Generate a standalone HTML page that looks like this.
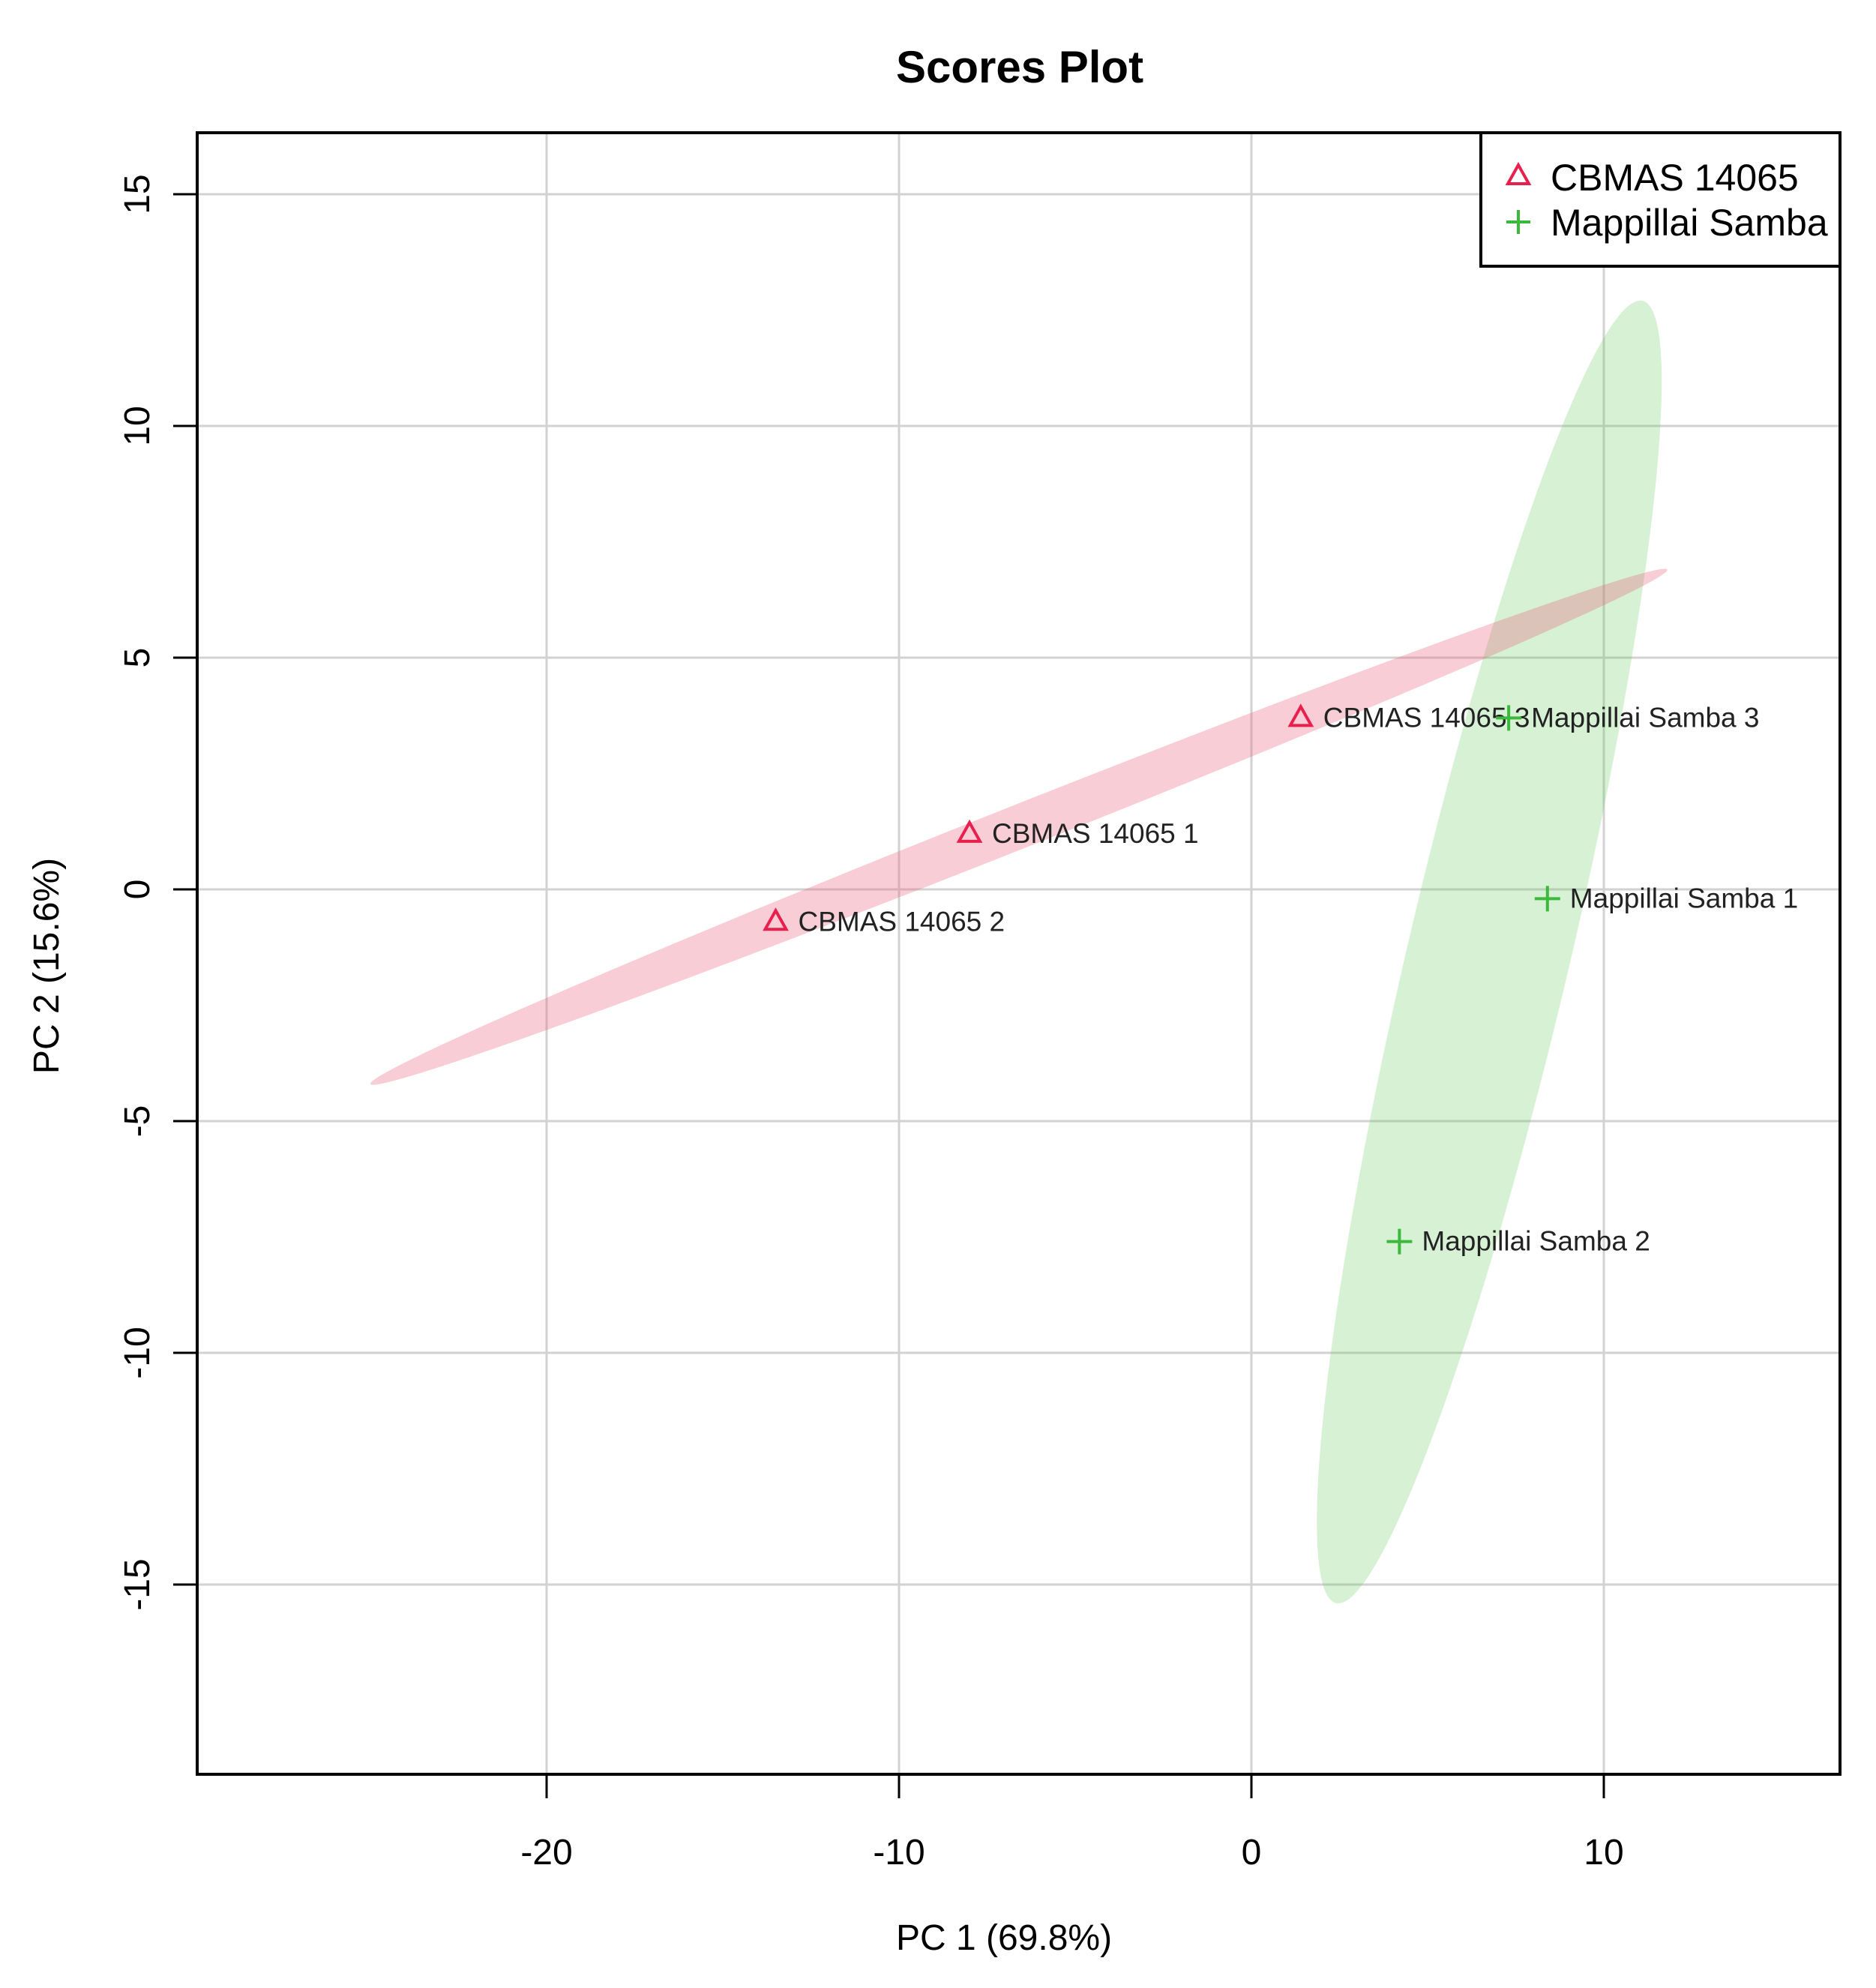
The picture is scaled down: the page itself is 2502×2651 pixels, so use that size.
<!DOCTYPE html>
<html><head><meta charset="utf-8">
<style>
html,body{margin:0;padding:0;background:#fff;}
svg{display:block;font-family:"Liberation Sans",Arial,sans-serif;}
</style></head>
<body>
<svg id="chart" width="2502" height="2651" viewBox="0 0 2502 2651" xmlns="http://www.w3.org/2000/svg">
<rect width="2502" height="2651" fill="#fff"/>
<text x="1360" y="110" font-size="60" font-weight="bold" text-anchor="middle" fill="#000">Scores Plot</text>
<g id="grid"></g>
<g id="ellipses"></g>
<g id="points"></g>
<rect x="263" y="177" width="2191" height="2189" fill="none" stroke="#000" stroke-width="4"/>
<g id="axes"></g>
<text x="1339" y="2600" font-size="48" text-anchor="middle" fill="#000">PC 1 (69.8%)</text>
<text transform="translate(78,1288) rotate(-90)" font-size="48" text-anchor="middle" fill="#000">PC 2 (15.6%)</text>
<g id="legend">
<rect x="1975" y="177" width="479" height="178" fill="#fff" stroke="#000" stroke-width="4"/>
<polygon points="2025,220 2039,245 2011,245" fill="none" stroke="#E8204E" stroke-width="4"/>
<text x="2068" y="254" font-size="50" fill="#000">CBMAS 14065</text>
<path d="M2009,296 H2041 M2025,280 V312" stroke="#3cb83c" stroke-width="4"/>
<text x="2068" y="314" font-size="50" fill="#000">Mappillai Samba</text>
</g>
</svg>
<script>
const xTicks = [-20, -10, 0, 10];
const yTicks = [-15, -10, -5, 0, 5, 10, 15];
const groupNames = ["CBMAS 14065", "Mappillai Samba"];
const cbmasLabels = ["CBMAS 14065 1", "CBMAS 14065 2", "CBMAS 14065 3"];
const cbmasX = [-8.0, -13.5, 1.4];
const cbmasY = [1.2, -0.7, 3.7];
const mappLabels = ["Mappillai Samba 1", "Mappillai Samba 2", "Mappillai Samba 3"];
const mappX = [8.4, 4.2, 7.3];
const mappY = [-0.2, -7.6, 3.7];
const cbmasEllipseEnds = [[-25.0, -4.2], [11.8, 6.9]];
const cbmasEllipseHalfWidth = [0.62];
const mappEllipseEnds = [[11.1, 12.7], [2.4, -15.4]];
const mappEllipseHalfWidth = [2.3];

const NS = "http://www.w3.org/2000/svg";
const L = 263, R = 2454, T = 177, B = 2366;
function xs(v){ return 1669 + v * 47.0; }
function ys(v){ return 1186 - v * 61.8; }
function mk(tag, attrs, parent){
  const e = document.createElementNS(NS, tag);
  for (const k in attrs) e.setAttribute(k, attrs[k]);
  parent.appendChild(e);
  return e;
}
const grid = document.getElementById('grid');
const axes = document.getElementById('axes');
xTicks.forEach(t => {
  const gl = mk('line', {x1: xs(t), x2: xs(t), y1: T, y2: B, stroke: '#d2d2d2', 'stroke-width': 3}, grid);
  
  
  const tk = mk('line', {x1: xs(t), x2: xs(t), y1: B, y2: B + 32, stroke: '#000', 'stroke-width': 3}, axes);
  
  
  const tl = mk('text', {x: xs(t), y: 2486, 'font-size': 48, 'text-anchor': 'middle', fill: '#000'}, axes);
  tl.textContent = String(t);
  
  
});
yTicks.forEach(t => {
  const gl = mk('line', {x1: L, x2: R, y1: ys(t), y2: ys(t), stroke: '#d2d2d2', 'stroke-width': 3}, grid);
  
  
  const tk = mk('line', {x1: L - 32, x2: L, y1: ys(t), y2: ys(t), stroke: '#000', 'stroke-width': 3}, axes);
  
  
  const tl = mk('text', {transform: 'translate(199,' + ys(t) + ') rotate(-90)', 'font-size': 48, 'text-anchor': 'middle', fill: '#000'}, axes);
  tl.textContent = String(t);
  
  
});
const eg = document.getElementById('ellipses');
function drawEllipse(ends, hw, fill, op, name){
  const x1 = xs(ends[0][0]), y1 = ys(ends[0][1]), x2 = xs(ends[1][0]), y2 = ys(ends[1][1]);
  const cx = (x1 + x2) / 2, cy = (y1 + y2) / 2;
  const rx = Math.hypot(x2 - x1, y2 - y1) / 2;
  const ang = Math.atan2(y2 - y1, x2 - x1) * 180 / Math.PI;
  const ry = hw[0] * 47.0;
  const e = mk('ellipse', {cx: cx, cy: cy, rx: rx, ry: ry, transform: 'rotate(' + ang + ' ' + cx + ' ' + cy + ')', fill: fill, 'fill-opacity': op}, eg);
  
  
}
drawEllipse(mappEllipseEnds, mappEllipseHalfWidth, '#61c85a', 0.26, 'mappillai-confidence-ellipse');
drawEllipse(cbmasEllipseEnds, cbmasEllipseHalfWidth, '#e8637f', 0.32, 'cbmas-confidence-ellipse');
const pg = document.getElementById('points');
cbmasX.forEach((v, i) => {
  const px = xs(v), py = ys(cbmasY[i]);
  const tri = mk('polygon', {points: px + ',' + (py - 15) + ' ' + (px + 14) + ',' + (py + 10) + ' ' + (px - 14) + ',' + (py + 10), fill: 'none', stroke: '#E8204E', 'stroke-width': 4}, pg);
  
  
  const tl = mk('text', {x: px + 30, y: py + 12, 'font-size': 37, fill: '#222'}, pg);
  tl.textContent = cbmasLabels[i];
  
  
});
mappX.forEach((v, i) => {
  const px = xs(v), py = ys(mappY[i]);
  const pl = mk('path', {d: 'M' + (px - 17) + ',' + py + ' H' + (px + 17) + ' M' + px + ',' + (py - 17) + ' V' + (py + 17), stroke: '#3cb83c', 'stroke-width': 4}, pg);
  
  
  const tl = mk('text', {x: px + 30, y: py + 12, 'font-size': 37, fill: '#222'}, pg);
  tl.textContent = mappLabels[i];
  
  
});
</script>
</body></html>
